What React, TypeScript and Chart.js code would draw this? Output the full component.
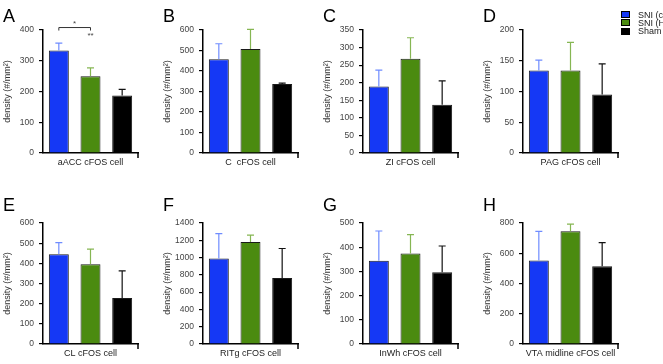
import React, { useEffect, useRef } from "react";
import { Chart, registerables } from "chart.js";

Chart.register(...registerables);

const groups = ["SNI (c", "SNI (H", "Sham"];
const groupColors = ["#1538f5", "#4b8b10", "#000000"];
const errColors = ["#6f8cff", "#86b653", "#111111"];
const panelLetters = ["A", "B", "C", "D", "E", "F", "G", "H"];
const regionLabels = [
  "aACC cFOS cell",
  "C  cFOS cell",
  "ZI cFOS cell",
  "PAG cFOS cell",
  "CL cFOS cell",
  "RITg cFOS cell",
  "InWh cFOS cell",
  "VTA midline cFOS cell",
];
const yMax = [400, 600, 350, 200, 600, 1400, 500, 800];
const yStep = [100, 100, 50, 50, 100, 200, 100, 200];
const sniCMean = [333, 457, 189, 134, 445, 990, 344, 552];
const sniCErr = [24, 76, 47, 17, 58, 288, 123, 193];
const sniHMean = [250, 507, 268, 134, 395, 1180, 374, 745];
const sniHErr = [27, 96, 60, 46, 75, 80, 78, 48];
const shamMean = [187, 337, 137, 95, 228, 763, 297, 514];
const shamErr = [20, 4, 68, 50, 135, 342, 108, 156];
// significance in panel A: bracket between SNI(c) and SNI(H)
const sigBracketValue = 408;
const sigStarsValue = 386;

const FONT = "'Liberation Sans', Arial, sans-serif";

const errorBarPlugin = {
  id: "errbars",
  afterDatasetsDraw(chart: any, _args: any, opts: any) {
    const ctx = chart.ctx;
    const y = chart.scales.y;
    const x = chart.scales.x;
    ctx.save();
    chart.data.datasets.forEach((ds: any, i: number) => {
      const meta = chart.getDatasetMeta(i);
      const bar = meta.data[0];
      const top = y.getPixelForValue(ds.data[0] + ds.err);
      ctx.strokeStyle = errColors[i];
      ctx.lineWidth = 1.2;
      ctx.beginPath();
      ctx.moveTo(bar.x, bar.y);
      ctx.lineTo(bar.x, top);
      ctx.moveTo(bar.x - 3.5, top);
      ctx.lineTo(bar.x + 3.5, top);
      ctx.stroke();
    });
    // right-end tick of x axis
    ctx.strokeStyle = "#000";
    ctx.lineWidth = 1.5;
    ctx.beginPath();
    ctx.moveTo(x.right, x.top);
    ctx.lineTo(x.right, x.top + 5);
    ctx.stroke();
    if (opts && opts.sig) {
      const b0 = chart.getDatasetMeta(0).data[0];
      const b1 = chart.getDatasetMeta(1).data[0];
      const yb = y.getPixelForValue(sigBracketValue);
      ctx.strokeStyle = "#333";
      ctx.lineWidth = 1;
      ctx.beginPath();
      ctx.moveTo(b0.x, yb + 3);
      ctx.lineTo(b0.x, yb);
      ctx.lineTo(b1.x, yb);
      ctx.lineTo(b1.x, yb + 3);
      ctx.stroke();
      ctx.fillStyle = "#444";
      ctx.font = `8px ${FONT}`;
      ctx.textAlign = "center";
      ctx.fillText("*", (b0.x + b1.x) / 2, yb - 2);
      ctx.fillText("**", b1.x, y.getPixelForValue(sigStarsValue) + 4);
    }
    ctx.restore();
  },
};

function Panel({ idx }: { idx: number }) {
  const ref = useRef<HTMLCanvasElement>(null);
  const row = Math.floor(idx / 4);
  const col = idx % 4;
  const canvasTop = row === 0 ? 0 : 180;
  const canvasH = row === 0 ? 180 : 184;
  const padTop = row === 0 ? 30 : 43;
  const xH = row === 0 ? 27 : 20;
  useEffect(() => {
    const means = [sniCMean[idx], sniHMean[idx], shamMean[idx]];
    const errs = [sniCErr[idx], sniHErr[idx], shamErr[idx]];
    const chart = new Chart(ref.current!, {
      type: "bar",
      data: {
        labels: [regionLabels[idx]],
        datasets: groups.map((g, i) => ({
          label: g,
          data: [means[i]],
          err: errs[i],
          backgroundColor: groupColors[i],
          borderColor: "#1a1a1a",
          borderWidth: 1,
          categoryPercentage: 1.0,
          barPercentage: 0.63,
        })) as any,
      },
      options: {
        animation: false,
        responsive: false,
        layout: { padding: { top: padTop, right: 22, left: 0, bottom: 0 } },
        plugins: {
          legend: { display: false },
          tooltip: { enabled: false },
          errbars: { sig: idx === 0 },
        } as any,
        scales: {
          x: {
            grid: { display: false, drawTicks: false },
            border: { display: true, color: "#000", width: 1.5 },
            ticks: {
              color: "#222",
              font: { family: FONT, size: 9 },
              padding: 4,
              maxRotation: 0,
              minRotation: 0,
            },
            afterFit: (s: any) => {
              s.height = xH;
            },
          },
          y: {
            min: 0,
            max: yMax[idx],
            ticks: {
              stepSize: yStep[idx],
              color: "#444",
              font: { family: FONT, size: 8.5 },
              padding: 5,
              callback: (v: any) => String(v),
            },
            grid: {
              drawOnChartArea: false,
              drawTicks: true,
              tickLength: 4,
              color: "#000",
              lineWidth: 1.2,
            },
            border: { display: true, color: "#000", width: 1.5 },
            title: {
              display: true,
              text: "density (#/mm²)",
              color: "#333",
              font: { family: FONT, size: 9 },
              padding: { top: 2, bottom: 0 },
            },
            afterFit: (s: any) => {
              s.width = 43;
            },
          },
        },
      },
      plugins: [errorBarPlugin],
    });
    return () => chart.destroy();
  }, [idx]);
  return (
    <>
      <canvas
        ref={ref}
        width={160}
        height={canvasH}
        style={{ position: "absolute", left: col * 160, top: canvasTop, width: 160, height: canvasH }}
      />
      <div
        style={{
          position: "absolute",
          left: col * 160 + 3,
          top: row === 0 ? 6 : 195,
          fontFamily: FONT,
          fontSize: 18,
          color: "#000",
          lineHeight: "20px",
        }}
      >
        {panelLetters[idx]}
      </div>
    </>
  );
}

export default function App() {
  return (
    <div
      style={{
        position: "absolute",
        left: 0,
        top: 0,
        width: 663,
        height: 364,
        background: "#fff",
        overflow: "hidden",
      }}
    >
      {panelLetters.map((_, i) => (
        <Panel key={i} idx={i} />
      ))}
      {groups.map((g, i) => (
        <div
          key={g}
          style={{
            position: "absolute",
            left: 621,
            top: 10 + i * 8.4,
            height: 9,
            display: "flex",
            alignItems: "center",
            whiteSpace: "nowrap",
            fontFamily: FONT,
            fontSize: 9,
            color: "#222",
          }}
        >
          <span
            style={{
              display: "inline-block",
              width: 7,
              height: 5,
              background: groupColors[i],
              border: "0.5px solid #000",
              marginRight: 8,
            }}
          />
          {g}
        </div>
      ))}
    </div>
  );
}
